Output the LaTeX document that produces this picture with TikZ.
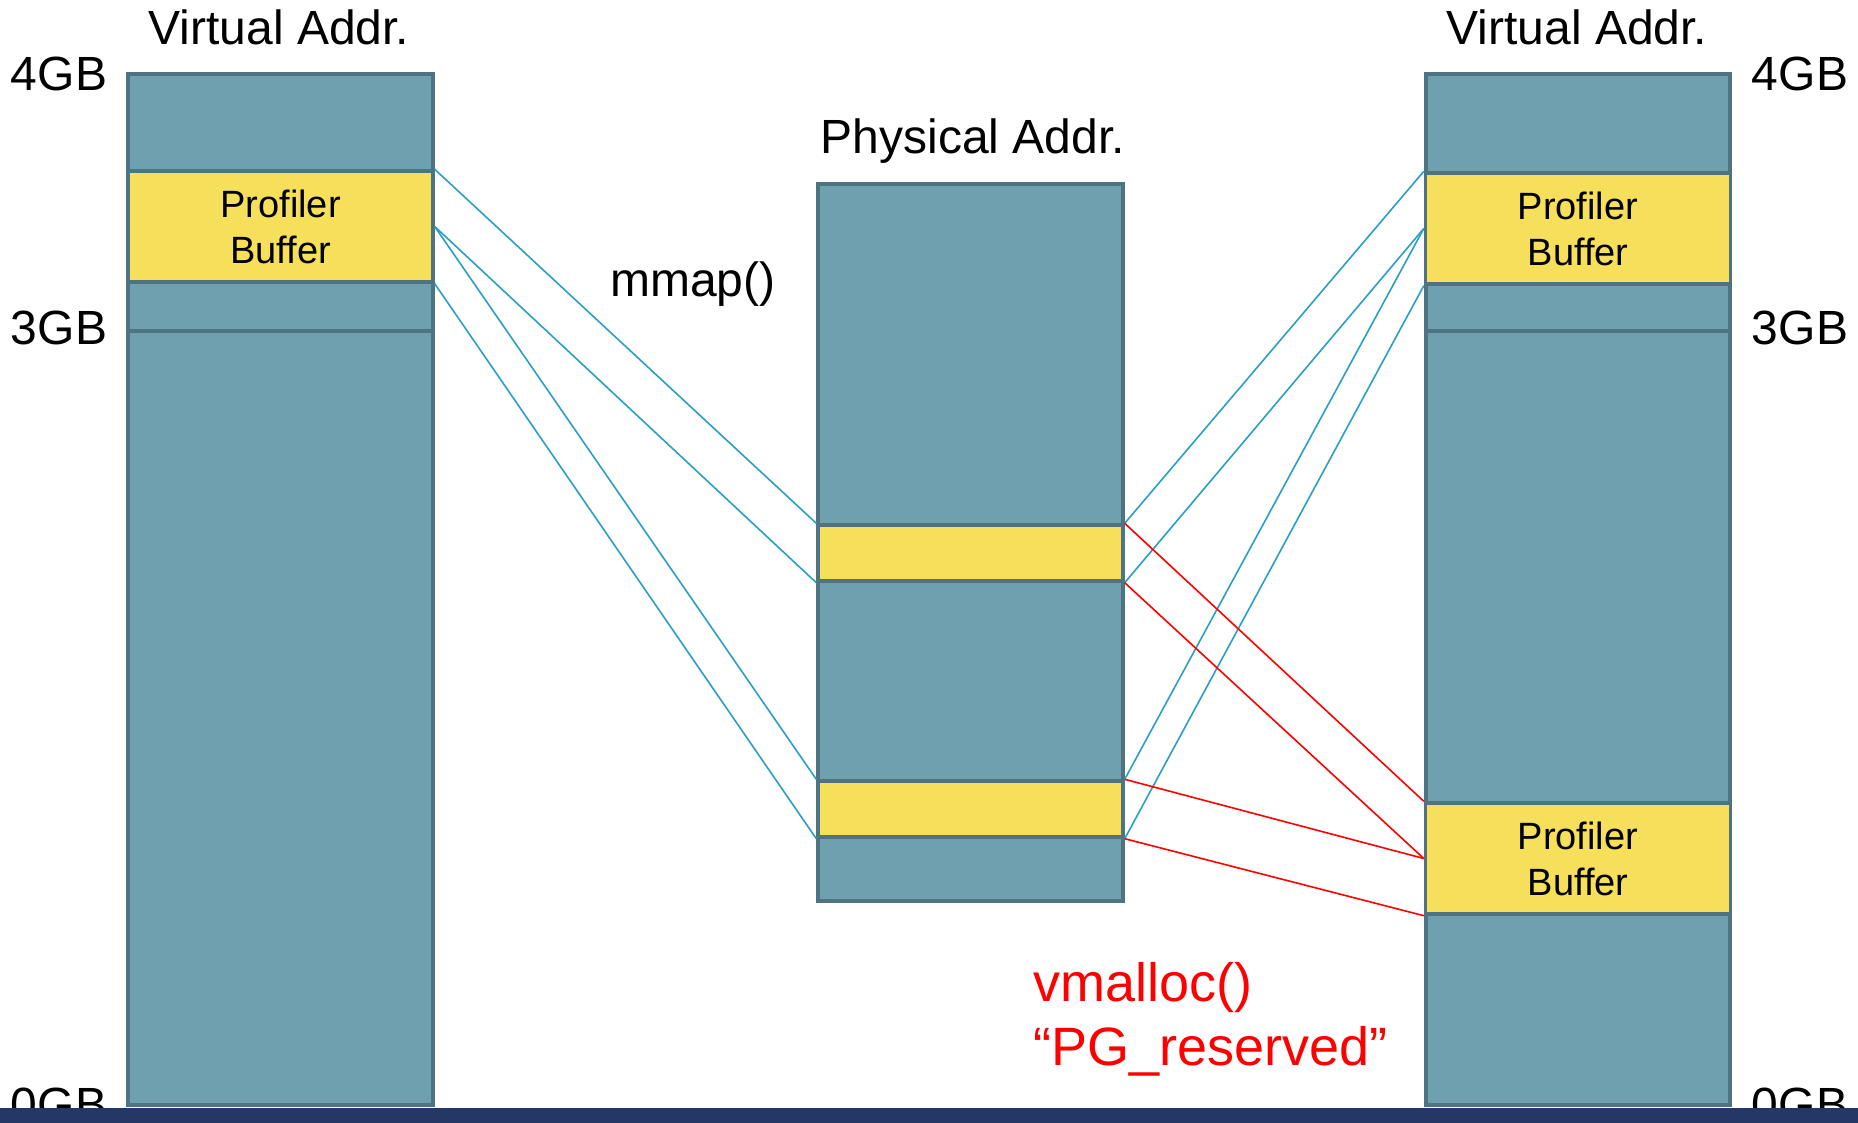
\documentclass[tikz,border=0pt]{standalone}
\usepackage{fontspec}
\setmainfont{Liberation Sans}
\usepackage{tikz}
\definecolor{colfill}{HTML}{6FA0AF}
\definecolor{coledge}{HTML}{4E7481}
\definecolor{bufyel}{HTML}{F6DF5A}
\definecolor{maplink}{HTML}{2A9FC6}
\definecolor{barblue}{HTML}{253865}

\begin{document}
\begin{tikzpicture}[x=0.5pt,y=-0.5pt,line join=miter
  ,col/.style={fill=colfill,draw=coledge,line width=1.7pt}
  ,buf/.style={fill=bufyel,draw=coledge,line width=1.7pt,minimum width=152.5pt,
    inner sep=0pt,align=center,font=\fontsize{19}{23}\selectfont}
  ,lbl/.style={font=\fontsize{24}{29}\selectfont,inner sep=0pt}
  ,maplines/.style={maplink,line width=0.8pt}
  ,reslines/.style={red,line width=0.8pt}]
  \useasboundingbox (0,0) rectangle (1858,1123);
  % left virtual space
  \draw[col] (128,74) rectangle (433,1105);
  \draw[coledge,line width=1.7pt] (128,331) -- (433,331);
  \node[buf,minimum height=55.5pt] (lbuf) at (280.5,226.5) {Profiler\\Buffer};
  % physical memory
  \draw[col] (818,184) rectangle (1123,901);
  \node[buf,minimum height=28pt] (pbufa) at (970.5,553) {};
  \node[buf,minimum height=28pt] (pbufb) at (970.5,809) {};
  % right virtual space
  \draw[col] (1426,74) rectangle (1730,1105);
  \draw[coledge,line width=1.7pt] (1426,331) -- (1730,331);
  \node[buf,minimum height=55.5pt] (rbuf) at (1578,228.5) {Profiler\\Buffer};
  \node[buf,minimum height=55.5pt] (kbuf) at (1578,858.5) {Profiler\\Buffer};
  % mmap() links
  \draw[maplines] (lbuf.north east) -- (pbufa.north west);
  \draw[maplines] (lbuf.east) -- (pbufa.south west);
  \draw[maplines] (lbuf.east) -- (pbufb.north west);
  \draw[maplines] (lbuf.south east) -- (pbufb.south west);
  \draw[maplines] (pbufa.north east) -- (rbuf.north west);
  \draw[maplines] (pbufa.south east) -- (rbuf.west);
  \draw[maplines] (pbufb.north east) -- (rbuf.west);
  \draw[maplines] (pbufb.south east) -- (rbuf.south west);
  % vmalloc() links
  \draw[reslines] (pbufa.north east) -- (kbuf.north west);
  \draw[reslines] (pbufa.south east) -- (kbuf.west);
  \draw[reslines] (pbufb.north east) -- (kbuf.west);
  \draw[reslines] (pbufb.south east) -- (kbuf.south west);
  % labels
  \node[lbl,anchor=base] (lvirt) at (279,45) {Virtual Addr.};
  \node[lbl,anchor=base] (rvirt) at (1577,45) {Virtual Addr.};
  \node[lbl,anchor=base] (phys) at (973,154) {Physical Addr.};
  \node[lbl,anchor=base] (mmap) at (693,297) {mmap()};
  \node[lbl,anchor=base] (l4) at (59,91) {4GB};
  \node[lbl,anchor=base] (l3) at (59,344) {3GB};
  \node[lbl,anchor=base] (l0) at (59,1121) {0GB};
  \node[lbl,anchor=base] (r4) at (1800,91) {4GB};
  \node[lbl,anchor=base] (r3) at (1800,344) {3GB};
  \node[lbl,anchor=base] (r0) at (1800,1121) {0GB};
  \node[lbl,anchor=base west,align=left,red,font=\fontsize{27}{32}\selectfont]
    (vmal) at (1033,1065) {vmalloc()\\“PG\_reserved”};
  \fill[barblue] (0,1108) rectangle (1858,1123);
\end{tikzpicture}
\end{document}
